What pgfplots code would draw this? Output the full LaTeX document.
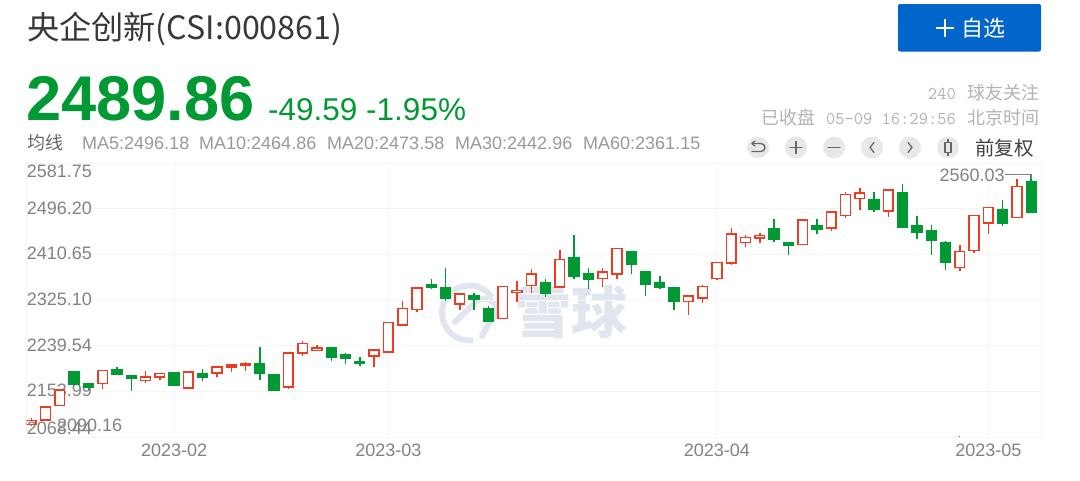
\documentclass[border=0pt]{standalone}
\usepackage{fontspec}
\setmainfont{Liberation Sans}
\newfontfamily\cjk{Noto Sans CJK SC}
\usepackage{pgfplots}
\usepackage{pgfplotstable}
\pgfplotsset{compat=1.18}

\definecolor{upred}{RGB}{238,60,35}
\definecolor{downgreen}{RGB}{0,153,51}
\definecolor{gridc}{RGB}{245,245,245}
\definecolor{wmark}{RGB}{224,229,238}
\definecolor{tickc}{RGB}{130,130,130}

% one row per trading day: lower and upper edge of the body, low, high
\pgfplotstableread{
bot top low high
2092.8 2099.7 2090.16 2104.1
2101.0 2125.3 2099.7 2125.3
2127.8 2157.2 2126.6 2158.4
2168.4 2191.5 2168.4 2193.4
2162.2 2167.8 2157.2 2170.9
2169.6 2193.4 2158.4 2193.4
2187.1 2194.6 2185.9 2199.6
2179.6 2182.8 2155.9 2182.8
2174.6 2181.5 2170.9 2193.4
2181.5 2187.8 2175.9 2189.6
2165.3 2188.4 2164.0 2190.2
2160.9 2190.9 2158.4 2190.9
2181.5 2186.5 2173.4 2195.9
2188.4 2199.6 2180.9 2200.9
2199.6 2203.4 2190.9 2204.0
2203.4 2206.5 2193.4 2209.0
2188.4 2206.5 2175.9 2238.3
2156.5 2185.3 2155.9 2187.8
2162.2 2226.5 2158.4 2226.5
2226.5 2243.9 2220.8 2249.6
2230.8 2235.2 2229.6 2240.8
2219.0 2235.8 2211.5 2237.1
2217.1 2222.1 2205.9 2225.8
2206.5 2210.2 2202.7 2219.6
2220.8 2232.1 2199.6 2232.1
2228.3 2283.3 2227.1 2284.5
2278.9 2310.1 2277.7 2323.9
2307.6 2348.2 2303.9 2350.7
2348.8 2354.5 2345.7 2365.7
2328.9 2348.2 2323.9 2386.3
2318.2 2336.4 2307.0 2336.4
2327.0 2333.2 2307.0 2338.2
2286.4 2310.1 2286.4 2315.1
2290.8 2351.3 2290.8 2351.3
2339.5 2343.2 2322.0 2362.0
2353.2 2374.4 2339.5 2383.2
2338.2 2357.6 2330.7 2365.7
2349.5 2401.3 2348.2 2418.8
2370.1 2405.0 2365.7 2448.1
2364.5 2374.4 2345.7 2385.7
2365.7 2377.6 2350.7 2385.7
2374.4 2422.5 2365.7 2422.5
2391.9 2416.9 2375.1 2416.9
2355.1 2378.2 2333.9 2378.2
2350.1 2357.6 2345.7 2371.3
2323.2 2348.8 2307.0 2350.7
2323.2 2333.2 2297.6 2335.1
2329.5 2351.3 2320.7 2353.2
2365.7 2395.7 2363.2 2396.9
2395.1 2449.4 2390.7 2460.0
2433.1 2443.1 2425.7 2447.5
2441.9 2446.3 2431.9 2451.9
2438.8 2458.7 2434.4 2478.1
2428.1 2431.9 2410.7 2434.4
2429.4 2475.6 2429.4 2476.9
2458.7 2464.4 2449.4 2478.1
2460.6 2490.6 2455.0 2493.1
2483.7 2523.1 2478.7 2528.7
2515.6 2526.2 2493.7 2534.9
2495.6 2514.3 2490.6 2528.7
2492.5 2531.8 2481.8 2531.8
2461.9 2526.8 2460.6 2543.7
2453.1 2464.4 2440.0 2483.7
2438.1 2455.6 2410.0 2466.2
2396.9 2431.9 2381.3 2436.3
2386.3 2416.3 2380.7 2428.1
2418.2 2484.3 2413.2 2484.3
2469.4 2499.3 2449.4 2500.6
2468.7 2494.3 2463.7 2513.7
2480.0 2538.0 2479.3 2551.8
2489.86 2548.0 2489.86 2560.03
}\candles

% wick, then the body as a closed polygon
\newcommand{\candle}[3]{%
  \pgfplotstablegetelem{#1}{bot}\of\candles\let\cbot\pgfplotsretval
  \pgfplotstablegetelem{#1}{top}\of\candles\let\ctop\pgfplotsretval
  \pgfplotstablegetelem{#1}{low}\of\candles\let\clow\pgfplotsretval
  \pgfplotstablegetelem{#1}{high}\of\candles\let\chigh\pgfplotsretval
  \pgfmathsetmacro\xl{#1-0.34}%
  \pgfmathsetmacro\xr{#1+0.34}%
  \edef\temp{\noexpand\addplot[draw=#2,line width=1.5pt,forget plot]
    coordinates {(#1,\clow) (#1,\chigh)};
    \noexpand\addplot[draw=#2,fill=#3,line width=1.6pt,forget plot]
    coordinates {(\xl,\cbot) (\xr,\cbot) (\xr,\ctop) (\xl,\ctop)} -- cycle;}\temp
}

\begin{document}
\begin{tikzpicture}
\begin{scope}[x=1pt,y=-1pt,every node/.style={inner sep=0pt}]
\useasboundingbox (0,0) rectangle (1080,480);

% header
\node[anchor=west,text=black!78] at (27,29) {\cjk\fontsize{32.2}{35}\selectfont 央企创新(CSI:000861)};
\node[anchor=base west,text=downgreen] at (26,120) {\fontsize{63.2}{66}\selectfont\bfseries 2489.86};
\node[anchor=base west,text=downgreen] at (268,120) {\fontsize{31.5}{34}\selectfont -49.59 -1.95\%};
\node[anchor=west,text=black!60] at (27,143) {\cjk\fontsize{18}{20}\selectfont 均线};
\foreach \x/\t in {82/MA5:2496.18,199/MA10:2464.86,327/MA20:2473.58,455/MA30:2442.96,583/MA60:2361.15}
  \node[anchor=west,text=black!40] at (\x,143) {\fontsize{18}{20}\selectfont\t};

% button
\fill[rounded corners=2pt,fill={rgb,255:red,0;green,102;blue,204}] (898,4) rectangle (1041,51.5);
\draw[white,line width=2pt] (936,28) -- (954,28) (945,19) -- (945,37);
\node[anchor=west,text=white] at (961,28) {\cjk\fontsize{22}{24}\selectfont 自选};

% right hand text
\node[anchor=east,text=black!30] at (1040,93) {\fontsize{18}{20}\selectfont\ttfamily 240\hspace{12pt}\cjk 球友关注};
\node[anchor=east,text=black!30] at (1040,118) {\fontsize{18}{20}\selectfont\cjk 已收盘\hspace{11pt}\ttfamily 05-09 16:29:56\hspace{12pt}\cjk 北京时间};
\foreach \x in {758,796,834,872,910,948}
  \fill[black!9] (\x,147.5) circle (11);
\begin{scope}[draw=black!60,line width=1.3pt,line cap=round,line join=round]
\draw (752,143.5) -- (761,143.5) arc (-90:90:4) -- (752,151.5);
\draw (752,143.5) -- (755,141) (752,143.5) -- (755,146);
\draw (790,147.5) -- (802,147.5) (796,141.5) -- (796,153.5);
\draw (828,147.5) -- (840,147.5);
\draw (874,142.5) -- (870,147.5) -- (874,152.5);
\draw (908,142.5) -- (912,147.5) -- (908,152.5);
\draw (945,142.5) rectangle (951,152.5) (948,139.5) -- (948,142.5) (948,152.5) -- (948,155.5);
\end{scope}
\node[anchor=west,text=black!75] at (975,148) {\cjk\fontsize{19.5}{22}\selectfont 前复权};

% watermark
\draw[wmark,line width=6pt] (469.5,313) ++(-35:27.5) arc (-35:-278:27.5);
\draw[wmark,line width=6pt,line join=round,line cap=round] (455,322) -- (476,302) arc (-135:60:12) -- (482,336);
\node[text=wmark] at (571,312) {\cjk\fontsize{56}{60}\selectfont\bfseries 雪球};
\end{scope}

\begin{axis}[
  at={(26.7pt,-437.3pt)},anchor=south west,
  scale only axis,width=1015pt,height=274pt,
  xmin=-0.32,xmax=70.73,ymin=2068.44,ymax=2581.75,
  axis line style={draw=gridc,line width=1pt},
  grid=major,grid style={draw=gridc,line width=1pt},
  major tick length=0pt,
  xtick={10,25,48,67},
  xticklabels={2023-02,2023-03,2023-04,2023-05},
  ytick={2153.99,2239.54,2325.10,2410.65,2496.20},
  yticklabels={2153.99,2239.54,2325.10,2410.65,2496.20},
  tick label style={font=\fontsize{18}{20}\selectfont,text=tickc,inner sep=0pt},
  y tick label style={anchor=west,yshift=1pt},
  x tick label style={yshift=-6pt},
]
\pgfplotsinvokeforeach{0,1,2,5,8,9,11,13,14,15,18,19,20,24,25,26,27,30,33,34,35,37,40,41,46,47,48,49,50,51,54,56,57,58,60,65,66,67,69}{
  \candle{#1}{upred}{white}
}
\pgfplotsinvokeforeach{3,4,6,7,10,12,16,17,21,22,23,28,29,31,32,36,38,39,42,43,44,45,52,53,55,59,61,62,63,64,68,70}{
  \candle{#1}{downgreen}{downgreen}
}
% stray tick at the foot of the plot
\addplot[downgreen,line width=1.3pt,forget plot] coordinates {(65,2068.44) (65,2071.5)};
% high marker
\addplot[gray,line width=1pt,forget plot] coordinates {(68.18,2560.03) (70,2560.03) (70,2552)};
\node[anchor=east,inner sep=0pt,text=tickc,font=\fontsize{18}{20}\selectfont] at (axis cs:68.16,2560.03) {2560.03};
% low marker and the two outer scale labels, moved inside the frame
\node[anchor=west,inner sep=0pt,text=tickc,font=\fontsize{18}{20}\selectfont] at (axis cs:1.8,2090.16) {2090.16};
\node[anchor=west,inner sep=0pt,text=tickc,font=\fontsize{18}{20}\selectfont] at (axis cs:-0.32,2085) {2068.44};
\node[anchor=west,inner sep=0pt,text=tickc,font=\fontsize{18}{20}\selectfont] at (axis cs:-0.32,2566) {2581.75};
\end{axis}
\end{tikzpicture}
\end{document}
